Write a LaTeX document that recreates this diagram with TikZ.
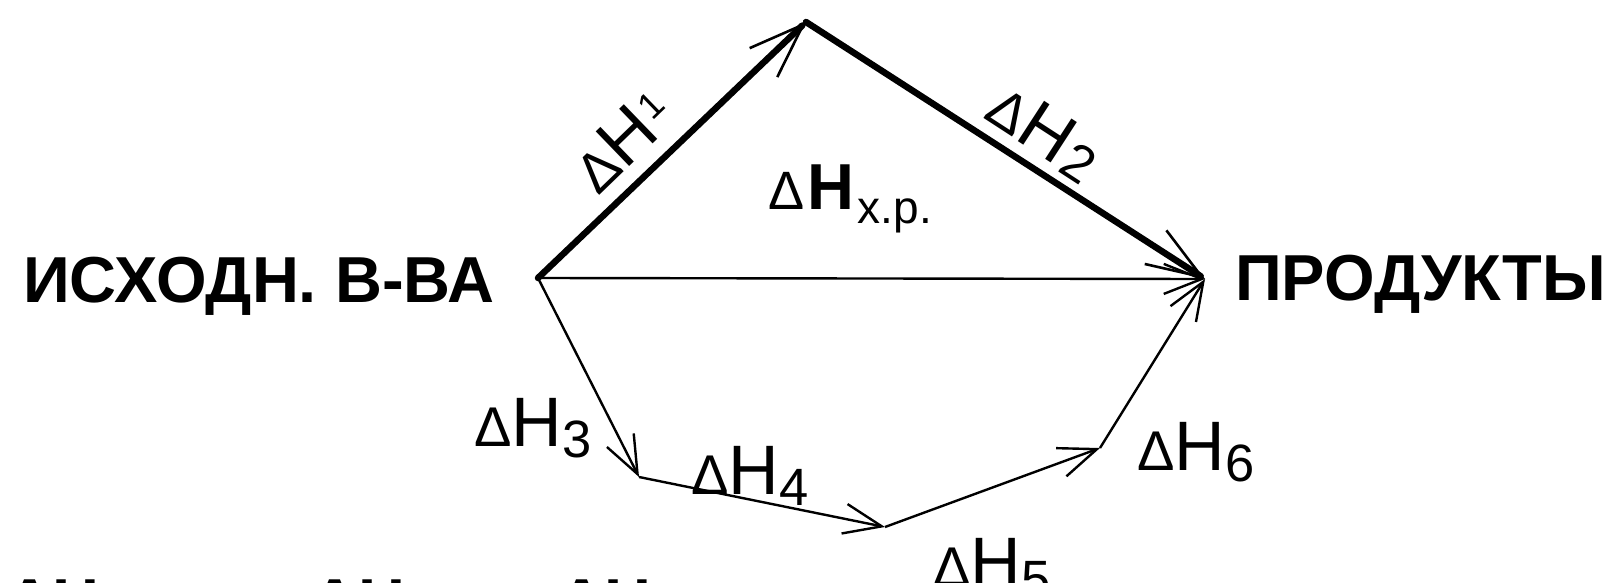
\documentclass[tikz,border=0pt]{standalone}
\usepackage{fontspec}
\setmainfont{Liberation Sans}
\usepackage{graphicx}
\usetikzlibrary{arrows.meta}
\newcommand{\dH}[2][-11pt]{\scalebox{0.8}{Δ}H\raisebox{#1}{\scalebox{0.75}{#2}}}

\begin{document}
\begin{tikzpicture}[x=1pt, y=-1pt,
  state/.style={font=\fontsize{65}{70}\selectfont\bfseries, inner sep=0pt, anchor=base west},
  lbl/.style={font=\fontsize{70}{76}\selectfont, inner sep=0pt},
  leg/.style={line width=2.4pt, -{Straight Barb[length=38pt, width=30pt, line width=2.4pt]}},
  thick leg/.style={line width=6.5pt, line cap=round, -{Straight Barb[length=55pt, width=40pt, line width=2.6pt]}}]
  \useasboundingbox (0,0) rectangle (1616,583);
  % states
  \node[state] (ish) at (23,302) {ИСХОДН. В-ВА};
  \node[state] (prod) at (1235,300) {ПРОДУКТЫ};
  \coordinate (src) at (538,278);
  \coordinate (top) at (806,22);
  \coordinate (fin) at (1205,279);
  \coordinate (p3) at (639,477);
  \coordinate (p4) at (885,527);
  \coordinate (p5) at (1100,448);
  % upper path and direct path
  \draw[thick leg] (src) -- (top);
  \draw[thick leg] (top) -- (fin);
  \draw[leg] (src) -- (fin);
  % lower path
  \draw[leg] (src) -- (p3);
  \draw[leg] (p3) -- (p4);
  \draw[leg] (p4) -- (p5);
  \draw[leg] (p5) -- (fin);
  % labels
  \node[lbl, rotate=44] (l1) at (622,141) {\dH[17pt]{\kern3pt\scalebox{0.7}{1}}};
  \node[lbl, rotate=-33] (l2) at (1045,132) {\dH[-4pt]{\kern4pt 2}};
  \node[inner sep=0pt] (lxp) at (850,199) {{\fontsize{54}{56}\selectfont Δ}\,\,{\fontsize{65}{70}\selectfont\bfseries H}\,\,{\fontsize{46}{48}\selectfont\raisebox{-14pt}{x.p.}}};
  \node[lbl] (l3) at (533,428) {\dH{3}};
  \node[lbl] (l4) at (750,476) {\dH{4}};
  \node[lbl] (l5) at (992,568) {\dH{5}};
  \node[lbl] (l6) at (1196,452) {\dH{6}};
  % sum line, cut by the lower edge of the page
  \node[state] (sum) at (6,624) {ΔH\raisebox{-14pt}{\fontsize{45}{48}\selectfont x.p.}\hspace{60pt} = ΔH\raisebox{-14pt}{\fontsize{45}{48}\selectfont 1}\hspace{28pt} +\hspace{26pt} ΔH\raisebox{-14pt}{\fontsize{45}{48}\selectfont 2}};
\end{tikzpicture}
\end{document}
